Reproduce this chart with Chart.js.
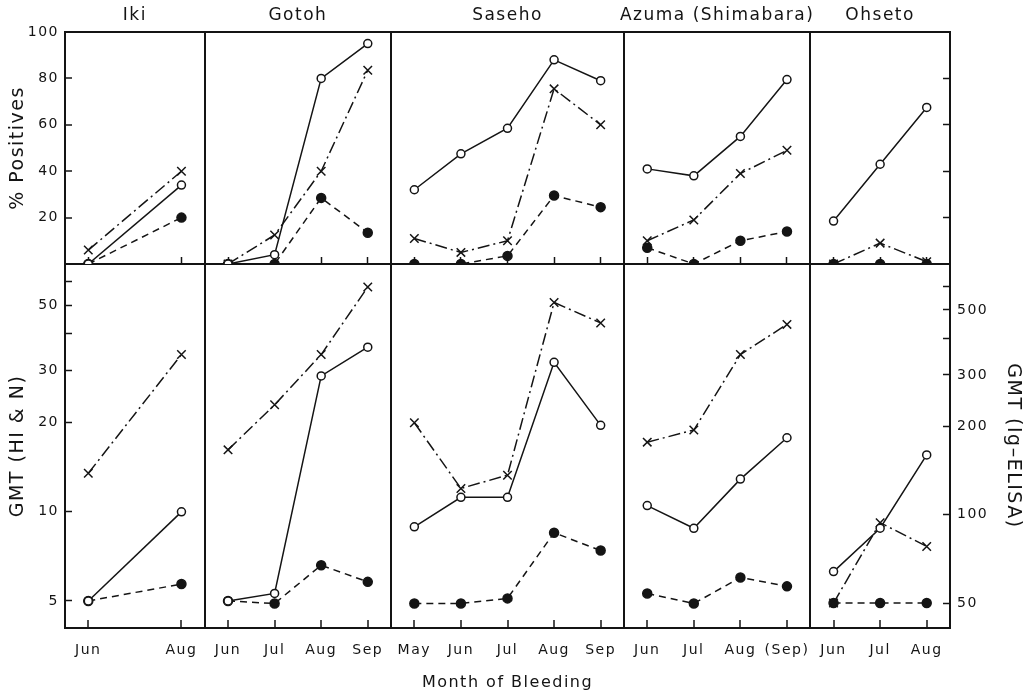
<!DOCTYPE html>
<html>
<head>
<meta charset="utf-8">
<title>% Positives and GMT by month of bleeding</title>
<script src="https://cdn.jsdelivr.net/npm/chart.js@4.4.1/dist/chart.umd.min.js"></script>
<style>
  html, body { margin: 0; padding: 0; background: #fff; }
  #wrap { width: 1031px; height: 696px; }
</style>
</head>
<body>
<div id="wrap"><canvas id="bleedingChart" width="1031" height="696"></canvas></div>
<script>
// months per panel (null value = no bleeding that month)
const ikiMonths = ['Jun', 'Jul', 'Aug'];
const gotohMonths = ['Jun', 'Jul', 'Aug', 'Sep'];
const sasehoMonths = ['May', 'Jun', 'Jul', 'Aug', 'Sep'];
const azumaMonths = ['Jun', 'Jul', 'Aug', '(Sep)'];
const ohsetoMonths = ['Jun', 'Jul', 'Aug'];

// % positives: open circle, cross, filled circle
const ikiPosOpen = [0, null, 34];
const ikiPosCross = [6, null, 40];
const ikiPosFilled = [0, null, 20];
const gotohPosOpen = [0, 4, 80, 95];
const gotohPosCross = [0, 12.5, 40, 83.5];
const gotohPosFilled = [0, 0, 28.5, 13.5];
const sasehoPosOpen = [32, 47.5, 58.5, 88, 79];
const sasehoPosCross = [11, 5, 10, 75.5, 60];
const sasehoPosFilled = [0, 0, 3.5, 29.5, 24.5];
const azumaPosOpen = [41, 38, 55, 79.5];
const azumaPosCross = [10, 19, 39, 49];
const azumaPosFilled = [7, 0, 10, 14];
const ohsetoPosOpen = [18.5, 43, 67.5];
const ohsetoPosCross = [0, 9, 1];
const ohsetoPosFilled = [0, 0, 0];

// GMT (HI & N), Ohseto on the Ig-ELISA scale
const ikiGmtOpen = [5, null, 10];
const ikiGmtCross = [13.5, null, 34];
const ikiGmtFilled = [5, null, 5.7];
const gotohGmtOpen = [5, 5.3, 28.8, 36];
const gotohGmtCross = [16.2, 23, 34, 57.5];
const gotohGmtFilled = [5, 4.9, 6.6, 5.8];
const sasehoGmtOpen = [8.9, 11.2, 11.2, 32, 19.6];
const sasehoGmtCross = [20, 12, 13.3, 51, 43.5];
const sasehoGmtFilled = [4.9, 4.9, 5.1, 8.5, 7.4];
const azumaGmtOpen = [10.5, 8.8, 12.9, 17.8];
const azumaGmtCross = [17.2, 18.9, 34, 43];
const azumaGmtFilled = [5.3, 4.9, 6.0, 5.6];
const ohsetoGmtOpen = [64, 90, 160];
const ohsetoGmtCross = [50, 94, 78];
const ohsetoGmtFilled = [50, 50, 50];

// tick labels
const posTicks = [0, 20, 40, 60, 80, 100];
const gmtTicks = [5, 10, 20, 30, 40, 50, 60];
const gmtLabels = [5, 10, 20, 30, 50];
const elisaTicks = [50, 100, 200, 300, 400, 500, 600];
const elisaLabels = [50, 100, 200, 300, 500];

const panels = [
  { name: 'Iki', months: ikiMonths, pos: [ikiPosOpen, ikiPosCross, ikiPosFilled], gmt: [ikiGmtOpen, ikiGmtCross, ikiGmtFilled], gmtAxis: 'yBot' },
  { name: 'Gotoh', months: gotohMonths, pos: [gotohPosOpen, gotohPosCross, gotohPosFilled], gmt: [gotohGmtOpen, gotohGmtCross, gotohGmtFilled], gmtAxis: 'yBot' },
  { name: 'Saseho', months: sasehoMonths, pos: [sasehoPosOpen, sasehoPosCross, sasehoPosFilled], gmt: [sasehoGmtOpen, sasehoGmtCross, sasehoGmtFilled], gmtAxis: 'yBot' },
  { name: 'Azuma (Shimabara)', months: azumaMonths, pos: [azumaPosOpen, azumaPosCross, azumaPosFilled], gmt: [azumaGmtOpen, azumaGmtCross, azumaGmtFilled], gmtAxis: 'yBot' },
  { name: 'Ohseto', months: ohsetoMonths, pos: [ohsetoPosOpen, ohsetoPosCross, ohsetoPosFilled], gmt: [ohsetoGmtOpen, ohsetoGmtCross, ohsetoGmtFilled], gmtAxis: 'yBotR' },
];

const ink = '#141414';
const fontFamily = '"DejaVu Sans", "Liberation Sans", Arial, sans-serif';

const seriesStyle = [
  { pointStyle: 'circle', pointRadius: 4, pointBackgroundColor: '#fff', borderDash: [] },
  { pointStyle: 'crossRot', pointRadius: 6, pointBackgroundColor: ink, borderDash: [12, 4, 2, 4] },
  { pointStyle: 'circle', pointRadius: 4.5, pointBackgroundColor: ink, borderDash: [7, 5] },
];

// each month takes one slot on a shared x axis
let slot = 0;
panels.forEach(p => { p.start = slot; slot += p.months.length; });
const totalSlots = slot;

const monthTicks = [];
panels.forEach(p => {
  p.months.forEach((m, i) => {
    const used = p.pos.concat(p.gmt).some(vals => vals[i] !== null);
    if (used) monthTicks.push({ value: p.start + i + 0.5, label: m });
  });
});
const dividers = panels.slice(1).map(p => p.start);
const isDivider = v => dividers.includes(v);
const monthLabel = v => {
  const t = monthTicks.find(t => t.value === v);
  return t ? t.label : '';
};

const datasets = [];
panels.forEach(p => {
  ['pos', 'gmt'].forEach(row => {
    p[row].forEach((vals, s) => {
      datasets.push({
        data: vals.map((v, i) => ({ x: p.start + i + 0.5, y: v })),
        xAxisID: 'x',
        yAxisID: row === 'pos' ? 'yTop' : p.gmtAxis,
        borderColor: ink,
        borderWidth: 1.5,
        pointBorderColor: ink,
        pointBorderWidth: 1.5,
        spanGaps: true,
        fill: false,
        tension: 0,
        ...seriesStyle[s],
      });
    });
  });
});

const tickFont = { family: fontFamily, size: 14 };
const titleFont = { family: fontFamily, size: 19 };

const panelTitles = {
  id: 'panelTitles',
  beforeDraw(chart) {
    chart.ctx.letterSpacing = '1.5px';
  },
  afterDraw(chart) {
    const { ctx } = chart;
    const x = chart.scales.x;
    ctx.save();
    ctx.font = '17px ' + fontFamily;
    ctx.letterSpacing = '1.5px';
    ctx.fillStyle = ink;
    ctx.textAlign = 'center';
    ctx.textBaseline = 'middle';
    panels.forEach(p => {
      ctx.fillText(p.name, x.getPixelForValue(p.start + p.months.length / 2), 16);
    });
    ctx.restore();
  }
};

const setTicks = list => scale => { scale.ticks = list.map(v => ({ value: v })); };

const ctx = document.getElementById('bleedingChart').getContext('2d');
new Chart(ctx, {
  type: 'line',
  data: { datasets },
  options: {
    responsive: false,
    animation: false,
    devicePixelRatio: 1,
    layout: { padding: { top: 32, left: 0, right: 0, bottom: 0 } },
    plugins: { legend: { display: false }, tooltip: { enabled: false } },
    scales: {
      x: {
        type: 'linear',
        position: 'bottom',
        min: 0,
        max: totalSlots,
        bounds: 'data',
        afterBuildTicks: scale => {
          scale.ticks = monthTicks.map(t => t.value).concat(dividers)
            .sort((a, b) => a - b).map(v => ({ value: v }));
        },
        afterFit: scale => { scale.height = 68; },
        ticks: { callback: v => monthLabel(v), font: tickFont, color: ink, padding: 22, autoSkip: false, maxRotation: 0, minRotation: 0 },
        grid: {
          color: c => (c.tick && isDivider(c.tick.value)) ? ink : 'transparent',
          lineWidth: 2,
          tickColor: ink,
          tickWidth: 1.5,
          tickLength: -8,
        },
        border: { color: ink, width: 2 },
        title: { display: true, text: 'Month of Bleeding', font: { family: fontFamily, size: 16 }, color: ink, padding: { top: 0, bottom: 4 } },
      },
      xMid: {
        type: 'linear',
        position: { yTop: 0 },
        min: 0,
        max: totalSlots,
        bounds: 'data',
        afterBuildTicks: scale => { scale.ticks = monthTicks.map(t => ({ value: t.value })); },
        ticks: { display: false },
        grid: { color: 'transparent', tickColor: ink, tickWidth: 1.5, tickLength: -8 },
        border: { color: ink, width: 2 },
      },
      // left stack is laid out in reverse order, so the lower axis comes first
      yBot: {
        type: 'logarithmic',
        position: 'left',
        stack: 'left',
        stackWeight: 364,
        min: 4.05,
        max: 68.8,
        bounds: 'data',
        afterBuildTicks: setTicks(gmtTicks),
        afterFit: scale => { scale.width = 65; },
        ticks: { callback: v => (gmtLabels.includes(v) ? v : ''), font: tickFont, color: ink, padding: 13 },
        grid: { color: 'transparent', tickColor: ink, tickWidth: 1.5, tickLength: -7 },
        border: { color: ink, width: 2 },
        title: { display: true, text: 'GMT (HI & N)', font: titleFont, color: ink, padding: { top: 7, bottom: 0 } },
      },
      yTop: {
        type: 'linear',
        position: 'left',
        stack: 'left',
        stackWeight: 232,
        min: 0,
        max: 100,
        bounds: 'data',
        afterBuildTicks: setTicks(posTicks),
        afterFit: scale => { scale.width = 65; },
        ticks: { callback: v => (v === 0 ? '' : v), font: tickFont, color: ink, padding: 13 },
        grid: { color: c => (c.tick && c.tick.value === 100) ? ink : 'transparent', lineWidth: 2, tickColor: ink, tickWidth: 1.5, tickLength: -7 },
        border: { color: ink, width: 2 },
        title: { display: true, text: '% Positives', font: titleFont, color: ink, padding: { top: 7, bottom: 0 } },
      },
      yTopR: {
        type: 'linear',
        position: 'right',
        stack: 'right',
        stackWeight: 232,
        min: 0,
        max: 100,
        bounds: 'data',
        afterBuildTicks: setTicks([20, 40, 60, 80]),
        afterFit: scale => { scale.width = 81; },
        ticks: { display: false },
        grid: { color: 'transparent', tickColor: ink, tickWidth: 1.5, tickLength: -7 },
        border: { color: ink, width: 2 },
      },
      yBotR: {
        type: 'logarithmic',
        position: 'right',
        stack: 'right',
        stackWeight: 364,
        min: 41.1,
        max: 717,
        bounds: 'data',
        afterBuildTicks: setTicks(elisaTicks),
        afterFit: scale => { scale.width = 81; },
        ticks: { callback: v => (elisaLabels.includes(v) ? v : ''), font: tickFont, color: ink, padding: 14 },
        grid: { color: 'transparent', tickColor: ink, tickWidth: 1.5, tickLength: -7 },
        border: { color: ink, width: 2 },
        title: { display: true, text: 'GMT (Ig–ELISA)', font: titleFont, color: ink, padding: { top: 7, bottom: 0 } },
      },
    },
  },
  plugins: [panelTitles],
});
</script>
</body>
</html>
